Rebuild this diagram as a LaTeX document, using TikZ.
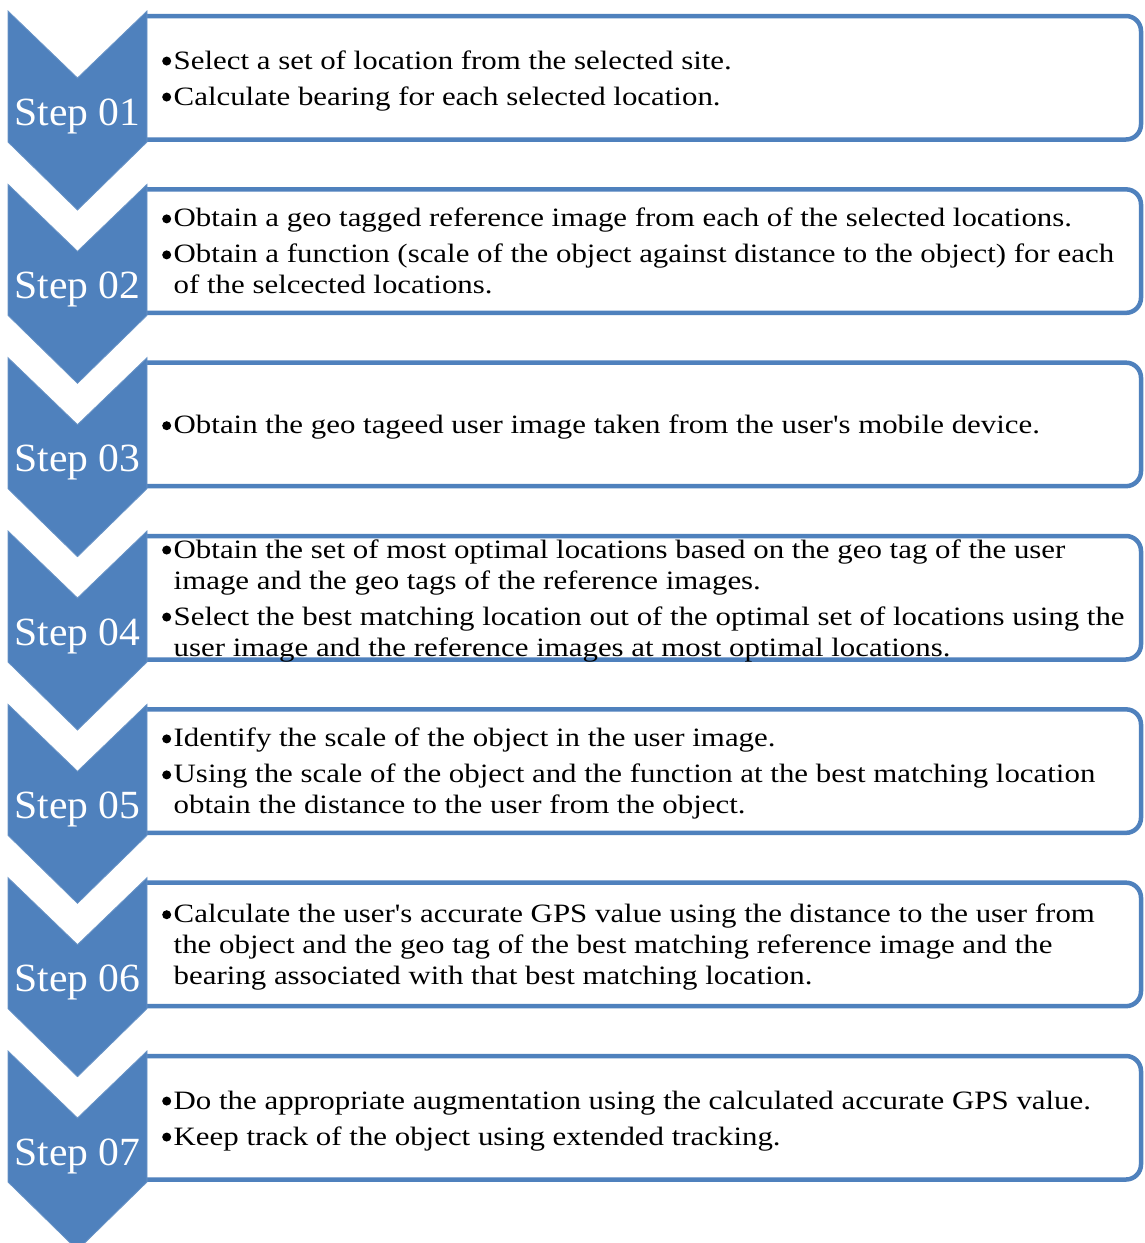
\documentclass[tikz,border=0pt]{standalone}
\usepackage{fontspec}
\setmainfont{Liberation Serif}
\newfontfamily\bodyfont[FakeStretch=1.165]{Liberation Serif}
\newfontfamily\stepfont[FakeStretch=1.04]{Liberation Serif}
\definecolor{accent}{RGB}{79,129,189}
\newcommand{\tb}{\makebox[11.5pt][l]{\tikz[baseline=0pt]\fill[black] (4.5pt,8pt) circle[radius=4.5pt];}}
\newcommand{\ci}{\hspace*{11.5pt}}
\newcommand{\hs}{\rule{0pt}{25pt}}
\newcommand{\ds}{\rule[-6.4pt]{0pt}{6.4pt}}
\begin{document}
\begin{tikzpicture}[x=1pt,y=-1pt,
  chev/.style={fill=accent, draw=accent!85!white, line width=0.8pt},
  boxnode/.style={minimum width=997pt, minimum height=123.5pt, inner sep=0pt, outer sep=0pt, draw=none, anchor=north west},
  boxline/.style={draw=accent, line width=4.5pt, rounded corners=15pt},
  steplbl/.style={font=\stepfont\fontsize{40}{48}\selectfont, text=white, anchor=base, inner sep=0pt},
  txt/.style={font=\bodyfont\fontsize{26.5}{31}\selectfont, align=left, anchor=west, inner sep=0pt}]
\clip (0,0) rectangle (1144,1243);
\fill[white] (0,0) rectangle (1144,1243);
% boxes
\foreach \i in {1,...,7}{
  \pgfmathsetmacro\by{16+173.333*(\i-1)}
  \node[boxnode] (b\i) at (144,\by) {};
  \draw[boxline] (b\i.north west) -- (b\i.north east) -- (b\i.south east) -- (b\i.south west);
}
% chevrons
\foreach \i in {1,...,7}{
  \pgfmathsetmacro\cy{11+173.333*(\i-1)}
  \draw[chev] (8,\cy) -- (77.5,\cy+67) -- (147,\cy) -- (147,\cy+131) -- (77.5,\cy+199) -- (8,\cy+131) -- cycle;
  \node[steplbl] (s\i) at (77.5,\cy+114) {Step 0\i};
}
% texts
\node[txt] (t1) at ([xshift=18pt]b1.west) {\hs\tb Select a set of location from the selected site.\\[5pt]
\tb Calculate bearing for each selected location.\ds};
\node[txt] (t2) at ([xshift=18pt]b2.west) {\hs\tb Obtain a geo tagged reference image from each of the selected locations.\\[5pt]
\tb Obtain a function (scale of the object against distance to the object) for each\\
\ci of the selcected locations.\ds};
\node[txt] (t3) at ([xshift=18pt]b3.west) {\hs\tb Obtain the geo tageed user image taken from the user's mobile device.\ds};
\node[txt] (t4) at ([xshift=18pt]b4.west) {\hs\tb Obtain the set of most optimal locations based on the geo tag of the user\\
\ci image and the geo tags of the reference images.\\[5pt]
\tb Select the best matching location out of the optimal set of locations using the\\
\ci user image and the reference images at most optimal locations.\ds};
\node[txt] (t5) at ([xshift=18pt]b5.west) {\hs\tb Identify the scale of the object in the user image.\\[5pt]
\tb Using the scale of the object and the function at the best matching location\\
\ci obtain the distance to the user from the object.\ds};
\node[txt] (t6) at ([xshift=18pt]b6.west) {\hs\tb Calculate the user's accurate GPS value using the distance to the user from\\
\ci the object and the geo tag of the best matching reference image and the\\
\ci bearing associated with that best matching location.\ds};
\node[txt] (t7) at ([xshift=18pt]b7.west) {\hs\tb Do the appropriate augmentation using the calculated accurate GPS value.\\[5pt]
\tb Keep track of the object using extended tracking.\ds};
\end{tikzpicture}
\end{document}
